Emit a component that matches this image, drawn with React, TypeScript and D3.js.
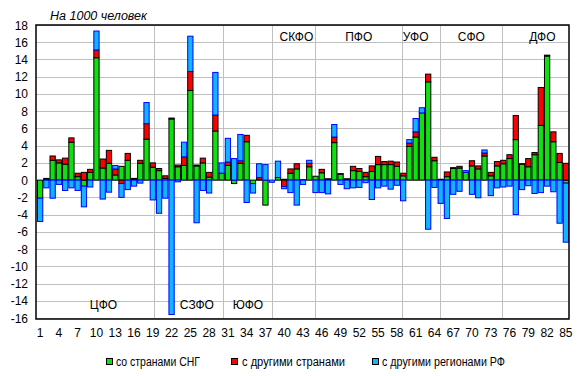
import React from "react";
import * as d3 from "d3";

const W = 581;
const H = 376;

const regionsIdx: number[] = d3.range(1, 86);

// со странами СНГ
const cis: number[] = [
  -2.1, 0.1, 2.3, 2.0, 1.85, 4.4, 0.4, -0.7, 0.9, 14.2,
  1.4, 1.95, 0.6, 1.6, 2.3, 0.1, 1.95, 4.75, 1.5, 1.1,
  0.2, 7.1, 1.55, 1.7, 10.4, 1.65, 2.0, 0.35, 5.7, 0.8,
  1.7, -0.4, 1.95, 4.45, -0.4, 0.05, -2.9, 0, 0.3, 0.1,
  0.8, 1.3, 0.05, 1.55, 0.45, 0.85, 0.1, 4.35, 0.7, 0.1,
  1.1, 1.0, 0.4, 1.0, 1.8, 1.8, 1.8, 1.6, 0.5, 3.9,
  5.0, 7.8, 11.4, 2.25, 0.05, 0.4, 1.35, 1.4, 0.9, 1.65,
  1.3, 2.8, 0.5, 1.65, 1.9, 2.5, 4.7, 1.85, 1.55, 2.95,
  6.35, 14.4, 4.45, 2.05, -0.35,
];

// с другими странами
const other: number[] = [
  0, 0.1, 0.5, 0.35, 0.7, 0.5, 0.4, 0.9, 0.35, 0.9,
  1.05, 1.5, 0.7, -0.4, 0.8, 0.1, 0.35, 1.8, 0.5, 0.25,
  0.3, 0.1, 0.2, 1.0, 2.2, 0.1, 0.55, 0.55, 1.85, 0,
  0.4, 0, 0.3, 0.75, 0, 0.25, 0, 0, 0, -0.75,
  0.5, 0.6, 0, 0.4, 0, 0.4, 0.05, 0.65, 0.05, 0.05,
  0.5, 0.35, 0.5, 0.65, 0.95, 0.35, 0.4, 0.5, 0.3, 0.4,
  0.6, 0, 0.9, 0.4, 0.05, 0.55, 0.1, 0.2, 0, 0.6,
  0.35, 0.35, 0.4, 0.5, 0.4, 0.45, 2.8, 0.05, 0.95, 0.25,
  4.4, 0.1, 1.15, 1.05, 1.95,
];

// с другими регионами РФ
const regionsRF: number[] = [
  -2.7, -0.9, -2.1, -0.5, -1.2, -0.9, -1.2, -2.4, -0.8, 2.2,
  -2.2, -1.4, 0.4, -1.6, -1.1, -0.7, -0.35, 2.45, -2.3, -3.85,
  -2.1, -15.6, -0.2, 1.7, 4.1, -4.95, -1.2, -1.5, 4.95, 1.2,
  2.75, 2.5, 3.05, -2.6, -1.1, 1.6, 1.8, -0.25, 1.9, -0.25,
  -1.45, -2.9, -0.5, 0.35, -1.45, -1.45, -1.6, 1.45, -0.5, -1.0,
  -0.9, -0.85, -0.3, -2.25, -0.9, -0.7, -1.05, -0.6, -2.4, 0.4,
  1.55, 0.6, -5.7, -0.85, -2.7, -4.45, -1.65, -1.3, 0.2, -1.65,
  -2.05, 0.35, -1.8, -0.9, -0.8, -0.7, -4.0, -1.1, -0.65, -1.55,
  -1.45, -0.7, -1.35, -5.0, -6.85,
];

const seriesKeys = ["cis", "other", "regions"];
const seriesNames = ["со странами СНГ", "с другими странами", "с другими регионами РФ"];
const seriesFill = ["#10e010", "#ff0000", "#10b4ff"];
const seriesStroke = ["#000000", "#000000", "#0000ff"];

const yTicks: number[] = d3.range(-16, 19, 2);
const xTickLabels: number[] = d3.range(1, 86, 3);

// district separators (position in category units from left edge)
const districtLines: number[] = [18.77, 29.77, 37.5, 44.46, 58.24, 64.44, 74.34];
const districtNames = ["ЦФО", "СЗФО", "ЮФО", "СКФО", "ПФО", "УФО", "СФО", "ДФО"];
const districtLabelAt: number[] = [10.62, 25.55, 33.7, 41.45, 51.4, 60.5, 69.4, 80.75];
const districtLabelTop: boolean[] = [false, false, false, true, true, true, true, true];

const FONT = "Arial, 'Liberation Sans', sans-serif";

export default function App() {
  const left = 37, right = 569, top = 25, bottom = 318;
  const x = d3.scaleBand<number>().domain(regionsIdx).range([left, right]).padding(0);
  const xc = d3.scaleLinear().domain([0, 85]).range([left, right]);
  const y = d3.scaleLinear().domain([-16, 18]).range([bottom, top]);

  const rows = regionsIdx.map((r, i) => ({
    r,
    cis: cis[i],
    other: other[i],
    regions: regionsRF[i],
  }));
  const stacked = d3
    .stack<any>()
    .keys(seriesKeys)
    .offset(d3.stackOffsetDiverging)(rows);

  const legendItems = [
    { sq: 106, tx: 116, len: 84 },
    { sq: 231, tx: 242, len: 103 },
    { sq: 372, tx: 382, len: 123 },
  ];

  return (
    <svg
      width={W}
      height={H}
      style={{ position: "absolute", left: 0, top: 0, background: "#fff" }}
      fontFamily={FONT}
    >
      <rect x={0} y={0} width={W} height={H} fill="#fff" />
      {/* horizontal gridlines */}
      {yTicks.map((t) => (
        <line
          key={"g" + t}
          x1={left - 1}
          x2={right}
          y1={Math.round(y(t)) + 0.5}
          y2={Math.round(y(t)) + 0.5}
          stroke="#c0c0c0"
          strokeWidth={1}
        />
      ))}
      {/* district vertical lines */}
      {districtLines.map((p, i) => (
        <line
          key={"v" + i}
          x1={Math.round(xc(p)) + 0.5}
          x2={Math.round(xc(p)) + 0.5}
          y1={top}
          y2={bottom}
          stroke="#c0c0c0"
          strokeWidth={1}
        />
      ))}
      {/* bars */}
      {stacked.map((s, si) =>
        s.map((d, i) => {
          const v = (rows[i] as any)[seriesKeys[si]];
          if (!v) return null;
          const y0 = y(d[1]);
          const y1 = y(d[0]);
          const xx = x(rows[i].r)!;
          return (
            <rect
              key={si + "-" + i}
              x={xx + 0.5}
              y={Math.min(y0, y1)}
              width={x.bandwidth() - 1}
              height={Math.abs(y1 - y0)}
              fill={seriesFill[si]}
              stroke={seriesStroke[si]}
              strokeWidth={1}
            />
          );
        })
      )}
      {/* plot border */}
      <rect
        x={left - 1}
        y={top}
        width={right - left + 1}
        height={bottom - top + 1}
        fill="none"
        stroke="#000"
        strokeWidth={1.5}
      />
      {/* district labels */}
      {districtNames.map((n, i) => (
        <text
          key={"d" + i}
          x={xc(districtLabelAt[i])}
          y={districtLabelTop[i] ? 41 : 309}
          textAnchor="middle"
          fontSize={12}
          fill="#000"
        >
          {n}
        </text>
      ))}
      {/* y tick labels */}
      {yTicks.map((t) => (
        <text
          key={"yt" + t}
          x={28}
          y={y(t) + 4.5}
          textAnchor="end"
          fontSize={12}
          fill="#000"
        >
          {t}
        </text>
      ))}
      {/* x tick labels */}
      {xTickLabels.map((t) => (
        <text
          key={"xt" + t}
          x={x(t)! + x.bandwidth() / 2}
          y={337}
          textAnchor="middle"
          fontSize={12}
          fill="#000"
        >
          {t}
        </text>
      ))}
      {/* title */}
      <text x={50} y={20} fontSize={12} fontStyle="italic" fill="#000" textLength={97} lengthAdjust="spacingAndGlyphs">
        На 1000 человек
      </text>
      {/* legend */}
      {legendItems.map((l, i) => (
        <g key={"l" + i}>
          <rect
            x={l.sq + 0.5}
            y={358.5}
            width={6}
            height={6}
            fill={seriesFill[i]}
            stroke="#000"
            strokeWidth={1}
          />
          <text x={l.tx} y={366} fontSize={12} fill="#000" textLength={l.len} lengthAdjust="spacingAndGlyphs">
            {seriesNames[i]}
          </text>
        </g>
      ))}
    </svg>
  );
}
